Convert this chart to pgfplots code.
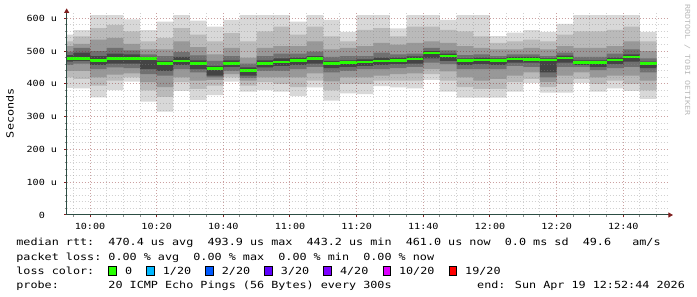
\documentclass[border=0pt]{standalone}
\usepackage{pgfplots}
\pgfplotsset{compat=1.18}
\usepackage{pgfplotstable}
\usepgfplotslibrary{fillbetween}
\usetikzlibrary{arrows.meta}
\usepackage{fontspec}
\setmainfont{DejaVu Sans Mono}[FakeStretch=1.2]
\newfontfamily\mono{DejaVu Sans Mono}[FakeStretch=1.2]
\newcommand\legfont{\mono\fontsize{9.8bp}{11bp}\selectfont}
\newcommand\tickfont{\mono\fontsize{8.44bp}{10bp}\selectfont}
\newcommand\wmfont{\mono\fontsize{7bp}{8bp}\selectfont}

\definecolor{sA}{HTML}{D8D8D8}
\definecolor{sB}{HTML}{BABABA}
\definecolor{sC}{HTML}{989898}
\definecolor{sD}{HTML}{707070}
\definecolor{sE}{HTML}{444444}
\definecolor{medgreen}{HTML}{26FF00}
\definecolor{gridc}{HTML}{8C8C8C}
\definecolor{mgridc}{HTML}{821E1E}
\definecolor{axisc}{HTML}{2C4D43}
\definecolor{arrowc}{HTML}{7F1F1F}
\definecolor{l0}{HTML}{26FF00}
\definecolor{l1}{HTML}{00B8FF}
\definecolor{l2}{HTML}{0059FF}
\definecolor{l3}{HTML}{5E00FF}
\definecolor{l4}{HTML}{7E00FF}
\definecolor{l10}{HTML}{DD00FF}
\definecolor{l19}{HTML}{FF0000}

\setlength{\fboxsep}{0pt}
\setlength{\fboxrule}{1bp}
\newcommand\lb[1]{\makebox[9.5bp][l]{\raisebox{-1bp}{\fcolorbox{black}{#1}{\rule{0pt}{8bp}\rule{6.5bp}{0pt}}}}}

% time in minutes since midnight; values in microseconds
\pgfplotstableread{
x   min lo2 lo3 lo4 lo5 med hi5 hi4 hi3 hi2 max
590 388 420 440 458 468 478 488 498 515 530 550
595 386 415 440 462 470 478 495 510 522 545 564
600 359 395 420 445 458 472 485 500 535 570 610
605 381 410 428 450 462 478 492 510 540 580 610
610 407 420 432 448 462 478 490 502 522 560 597
615 346 380 405 430 445 478 482 490 505 530 564
620 315 360 390 425 440 461 470 485 505 540 590
625 379 405 420 445 458 470 482 497 530 570 610
630 351 385 410 435 445 461 472 487 512 550 593
635 366 395 412 420 425 448 455 470 490 530 575
640 407 420 430 440 452 463 472 485 510 555 595
645 376 395 410 418 425 442 450 462 480 530 610
650 381 405 420 440 450 463 472 485 510 560 610
655 376 400 420 440 455 467 478 492 515 575 610
660 363 390 420 445 458 472 480 492 515 550 590
665 389 410 432 452 462 477 485 498 530 575 610
670 349 380 408 435 448 462 470 482 505 545 595
675 371 400 420 440 452 465 472 485 510 530 559
680 369 400 420 445 455 467 475 485 515 565 610
685 393 410 425 445 458 470 480 495 525 570 610
690 389 410 430 448 460 472 480 490 520 545 569
695 386 410 432 452 462 476 484 492 525 575 610
700 412 430 445 465 478 494 500 510 530 575 610
705 376 410 438 460 470 485 492 502 525 565 595
710 358 390 420 445 458 471 478 488 515 560 610
715 358 385 410 445 460 473 480 490 510 545 610
720 358 385 415 445 458 471 478 485 505 525 546
725 376 405 425 455 465 476 482 490 505 530 556
730 402 415 435 452 465 475 482 490 510 535 564
735 373 390 405 420 435 473 478 485 505 530 559
740 373 400 425 452 465 479 486 495 515 550 583
745 402 415 435 452 458 465 472 482 510 560 610
750 376 400 420 442 452 465 472 482 510 560 610
755 386 410 425 448 460 473 480 492 515 565 610
760 379 400 425 452 468 482 490 505 530 575 610
765 354 380 410 435 448 461 468 478 500 530 559
770 354 380 410 435 448 461 468 478 500 530 559
}\smoke

\begin{document}
\begin{tikzpicture}
\path (0,0) rectangle (697bp,297bp);
\begin{axis}[
  at={(66.67bp,82bp)}, anchor=south west,
  scale only axis, width=602.3bp, height=201.6bp,
  xmin=593, xmax=773.7, ymin=0, ymax=615,
  axis x line=bottom, axis y line=left,
  axis line style={draw=axisc, line width=1bp},
  x axis line style={-{Triangle[length=4.5bp,width=5bp,color=arrowc,fill=arrowc]}, shorten >=-4bp},
  y axis line style={-{Triangle[length=4.5bp,width=5bp,color=arrowc,fill=arrowc]}, shorten >=-5bp},
  axis on top,
  xtick={600,620,...,760},
  xticklabels={10:00,10:20,10:40,11:00,11:20,11:40,12:00,12:20,12:40},
  minor xtick={595,605,610,615,625,630,635,645,650,655,665,670,675,685,690,695,705,710,715,725,730,735,745,750,755,765,770},
  ytick={0,100,200,300,400,500,600},
  yticklabels={0\phantom{\ u},100 u,200 u,300 u,400 u,500 u,600 u},
  minor ytick={20,40,60,80,120,140,160,180,220,240,260,280,320,340,360,380,420,440,460,480,520,540,560,580},
  grid=both,
  major grid style={draw=mgridc, draw opacity=0.42, line width=1bp, dash pattern=on 1bp off 2bp},
  minor grid style={draw=gridc, draw opacity=0.4, line width=1bp, dash pattern=on 1bp off 2bp},
  tick align=outside, major tick length=2.5bp, minor tick length=2bp,
  major tick style={draw=mgridc, line width=1bp},
  minor tick style={draw=gridc, line width=1bp},
  xticklabel style={font=\tickfont, anchor=base, inner sep=0pt, yshift=-12.1bp},
  yticklabel style={font=\tickfont, anchor=east, inner sep=0pt, xshift=-6.9bp},
]
\addplot[name path=Amin, draw=none, const plot mark left] table[x=x,y=min]{\smoke};
\addplot[name path=Amax, draw=none, const plot mark left] table[x=x,y=max]{\smoke};
\addplot[fill=sA, draw=none] fill between[of=Amin and Amax];
\addplot[name path=Blo, draw=none, const plot mark left] table[x=x,y=lo2]{\smoke};
\addplot[name path=Bhi, draw=none, const plot mark left] table[x=x,y=hi2]{\smoke};
\addplot[fill=sB, draw=none] fill between[of=Blo and Bhi];
\addplot[name path=Clo, draw=none, const plot mark left] table[x=x,y=lo3]{\smoke};
\addplot[name path=Chi, draw=none, const plot mark left] table[x=x,y=hi3]{\smoke};
\addplot[fill=sC, draw=none] fill between[of=Clo and Chi];
\addplot[name path=Dlo, draw=none, const plot mark left] table[x=x,y=lo4]{\smoke};
\addplot[name path=Dhi, draw=none, const plot mark left] table[x=x,y=hi4]{\smoke};
\addplot[fill=sD, draw=none] fill between[of=Dlo and Dhi];
\addplot[name path=Elo, draw=none, const plot mark left] table[x=x,y=lo5]{\smoke};
\addplot[name path=Ehi, draw=none, const plot mark left] table[x=x,y=hi5]{\smoke};
\addplot[fill=sE, draw=none] fill between[of=Elo and Ehi];
\addplot[medgreen, line width=2.8bp, jump mark left] table[x=x,y=med]{\smoke};
\end{axis}
\node[rotate=90, font=\legfont, inner sep=0pt] at (10bp,183.7bp) {Seconds};
\node[rotate=-90, font=\wmfont, text=gray!55, inner sep=0pt] at (687.3bp,237bp) {RRDTOOL / TOBI OETIKER};
\node[anchor=base west, inner sep=0pt, font=\legfont] at (16.2bp,51bp) {median rtt:~~470.4 us avg~~493.9 us max~~443.2 us min~~461.0 us now~~0.0 ms sd~~49.6~~~am/s};
\node[anchor=base west, inner sep=0pt, font=\legfont] at (16.2bp,37bp) {packet loss:~0.00 \% avg~~0.00 \% max~~0.00 \% min~~0.00 \% now};
\node[anchor=base west, inner sep=0pt, font=\legfont] at (16.2bp,23bp) {loss color:~~\lb{l0}~0~~\lb{l1}~1/20~~\lb{l2}~2/20~~\lb{l3}~3/20~~\lb{l4}~4/20~~\lb{l10}~10/20~~\lb{l19}~19/20};
\node[anchor=base west, inner sep=0pt, font=\legfont] at (16.2bp,9bp) {probe:~~~~~~~20 ICMP Echo Pings (56 Bytes) every 300s};
\node[anchor=base west, inner sep=0pt, font=\legfont] at (477bp,9bp) {end: Sun Apr 19 12:52:44 2026};
\end{tikzpicture}
\end{document}
